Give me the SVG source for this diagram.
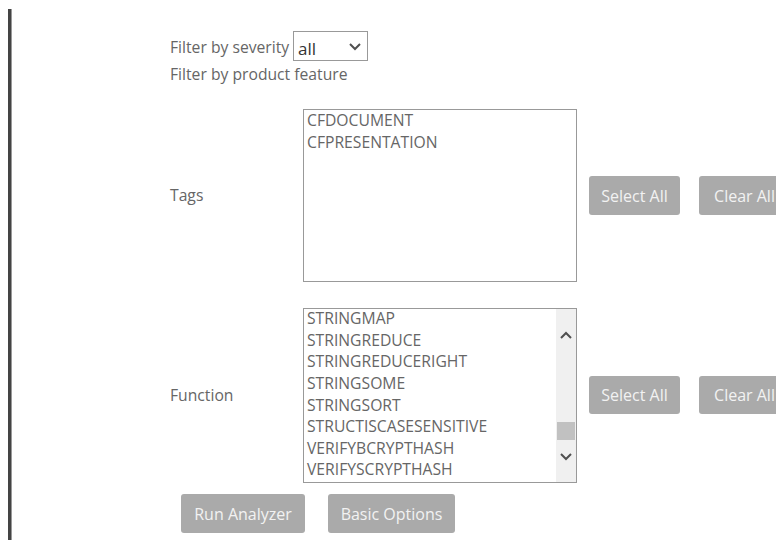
<svg xmlns="http://www.w3.org/2000/svg" width="776" height="540" viewBox="0 0 776 540">
  <style>
    .lbl { font-family: "Open Sans", "Liberation Sans", sans-serif; font-size: 15.7px; fill: #666; }
    .item { font-family: "Open Sans", "Liberation Sans", sans-serif; font-size: 15.7px; fill: #666; }
    .box { fill: #fff; stroke: #999; stroke-width: 1; }
    .btn { fill: #aaaaaa; }
    .btxt { font-family: "Open Sans", "Liberation Sans", sans-serif; font-size: 16px; fill: #f2f2f2; text-anchor: middle; }
    .chev { fill: none; stroke: #505050; stroke-width: 2; }
  </style>
  <rect width="776" height="540" fill="#fff"/>

  <!-- page side rule -->
  <rect x="8" y="9" width="3" height="531" fill="#444"/>
  <rect x="11" y="9" width="1" height="531" fill="#999"/>

  <!-- severity filter -->
  <g id="severity">
    <text class="lbl" x="170" y="53">Filter by severity</text>
    <rect class="box" x="293.5" y="31.5" width="74" height="29"/>
    <text x="298" y="55" font-family="Open Sans, Liberation Sans, sans-serif" font-size="17" fill="#333">all</text>
    <path class="chev" d="M350 44 L355 49 L360 44"/>
  </g>

  <text class="lbl" x="170" y="80">Filter by product feature</text>

  <!-- tags selector -->
  <g id="tags">
    <text class="lbl" x="170" y="201">Tags</text>
    <rect class="box" x="303.5" y="109.5" width="273" height="172"/>
    <text class="item" x="307" y="126">CFDOCUMENT</text>
    <text class="item" x="307" y="148">CFPRESENTATION</text>
  </g>
  <g id="tags-select-all">
    <rect class="btn" x="589" y="176" width="91" height="39" rx="3"/>
    <text class="btxt" x="634.5" y="201.5">Select All</text>
  </g>
  <g id="tags-clear-all">
    <rect class="btn" x="699" y="176" width="91" height="39" rx="3"/>
    <text class="btxt" x="744.5" y="201.5">Clear All</text>
  </g>

  <!-- function selector -->
  <g id="function">
    <text class="lbl" x="170" y="401">Function</text>
    <rect class="box" x="303.5" y="308.5" width="273" height="174"/>
    <rect x="556" y="309" width="20" height="173" fill="#f0f0f0"/>
    <rect x="557" y="422" width="18" height="18" fill="#c1c1c1"/>
    <path class="chev" d="M561 338 L566 333 L571 338"/>
    <path class="chev" d="M561 454 L566 459 L571 454"/>
    <text class="item" x="307" y="324">STRINGMAP</text>
    <text class="item" x="307" y="346">STRINGREDUCE</text>
    <text class="item" x="307" y="367">STRINGREDUCERIGHT</text>
    <text class="item" x="307" y="389">STRINGSOME</text>
    <text class="item" x="307" y="411">STRINGSORT</text>
    <text class="item" x="307" y="432">STRUCTISCASESENSITIVE</text>
    <text class="item" x="307" y="454">VERIFYBCRYPTHASH</text>
    <text class="item" x="307" y="475">VERIFYSCRYPTHASH</text>
  </g>
  <g id="function-select-all">
    <rect class="btn" x="589" y="376" width="91" height="38" rx="3"/>
    <text class="btxt" x="634.5" y="401">Select All</text>
  </g>
  <g id="function-clear-all">
    <rect class="btn" x="699" y="376" width="91" height="38" rx="3"/>
    <text class="btxt" x="744.5" y="401">Clear All</text>
  </g>

  <!-- actions -->
  <g id="run-analyzer">
    <rect class="btn" x="181" y="494" width="124" height="39" rx="3"/>
    <text class="btxt" x="243" y="519.5">Run Analyzer</text>
  </g>
  <g id="basic-options">
    <rect class="btn" x="328" y="494" width="127" height="39" rx="3"/>
    <text class="btxt" x="391.5" y="519.5">Basic Options</text>
  </g>
</svg>
